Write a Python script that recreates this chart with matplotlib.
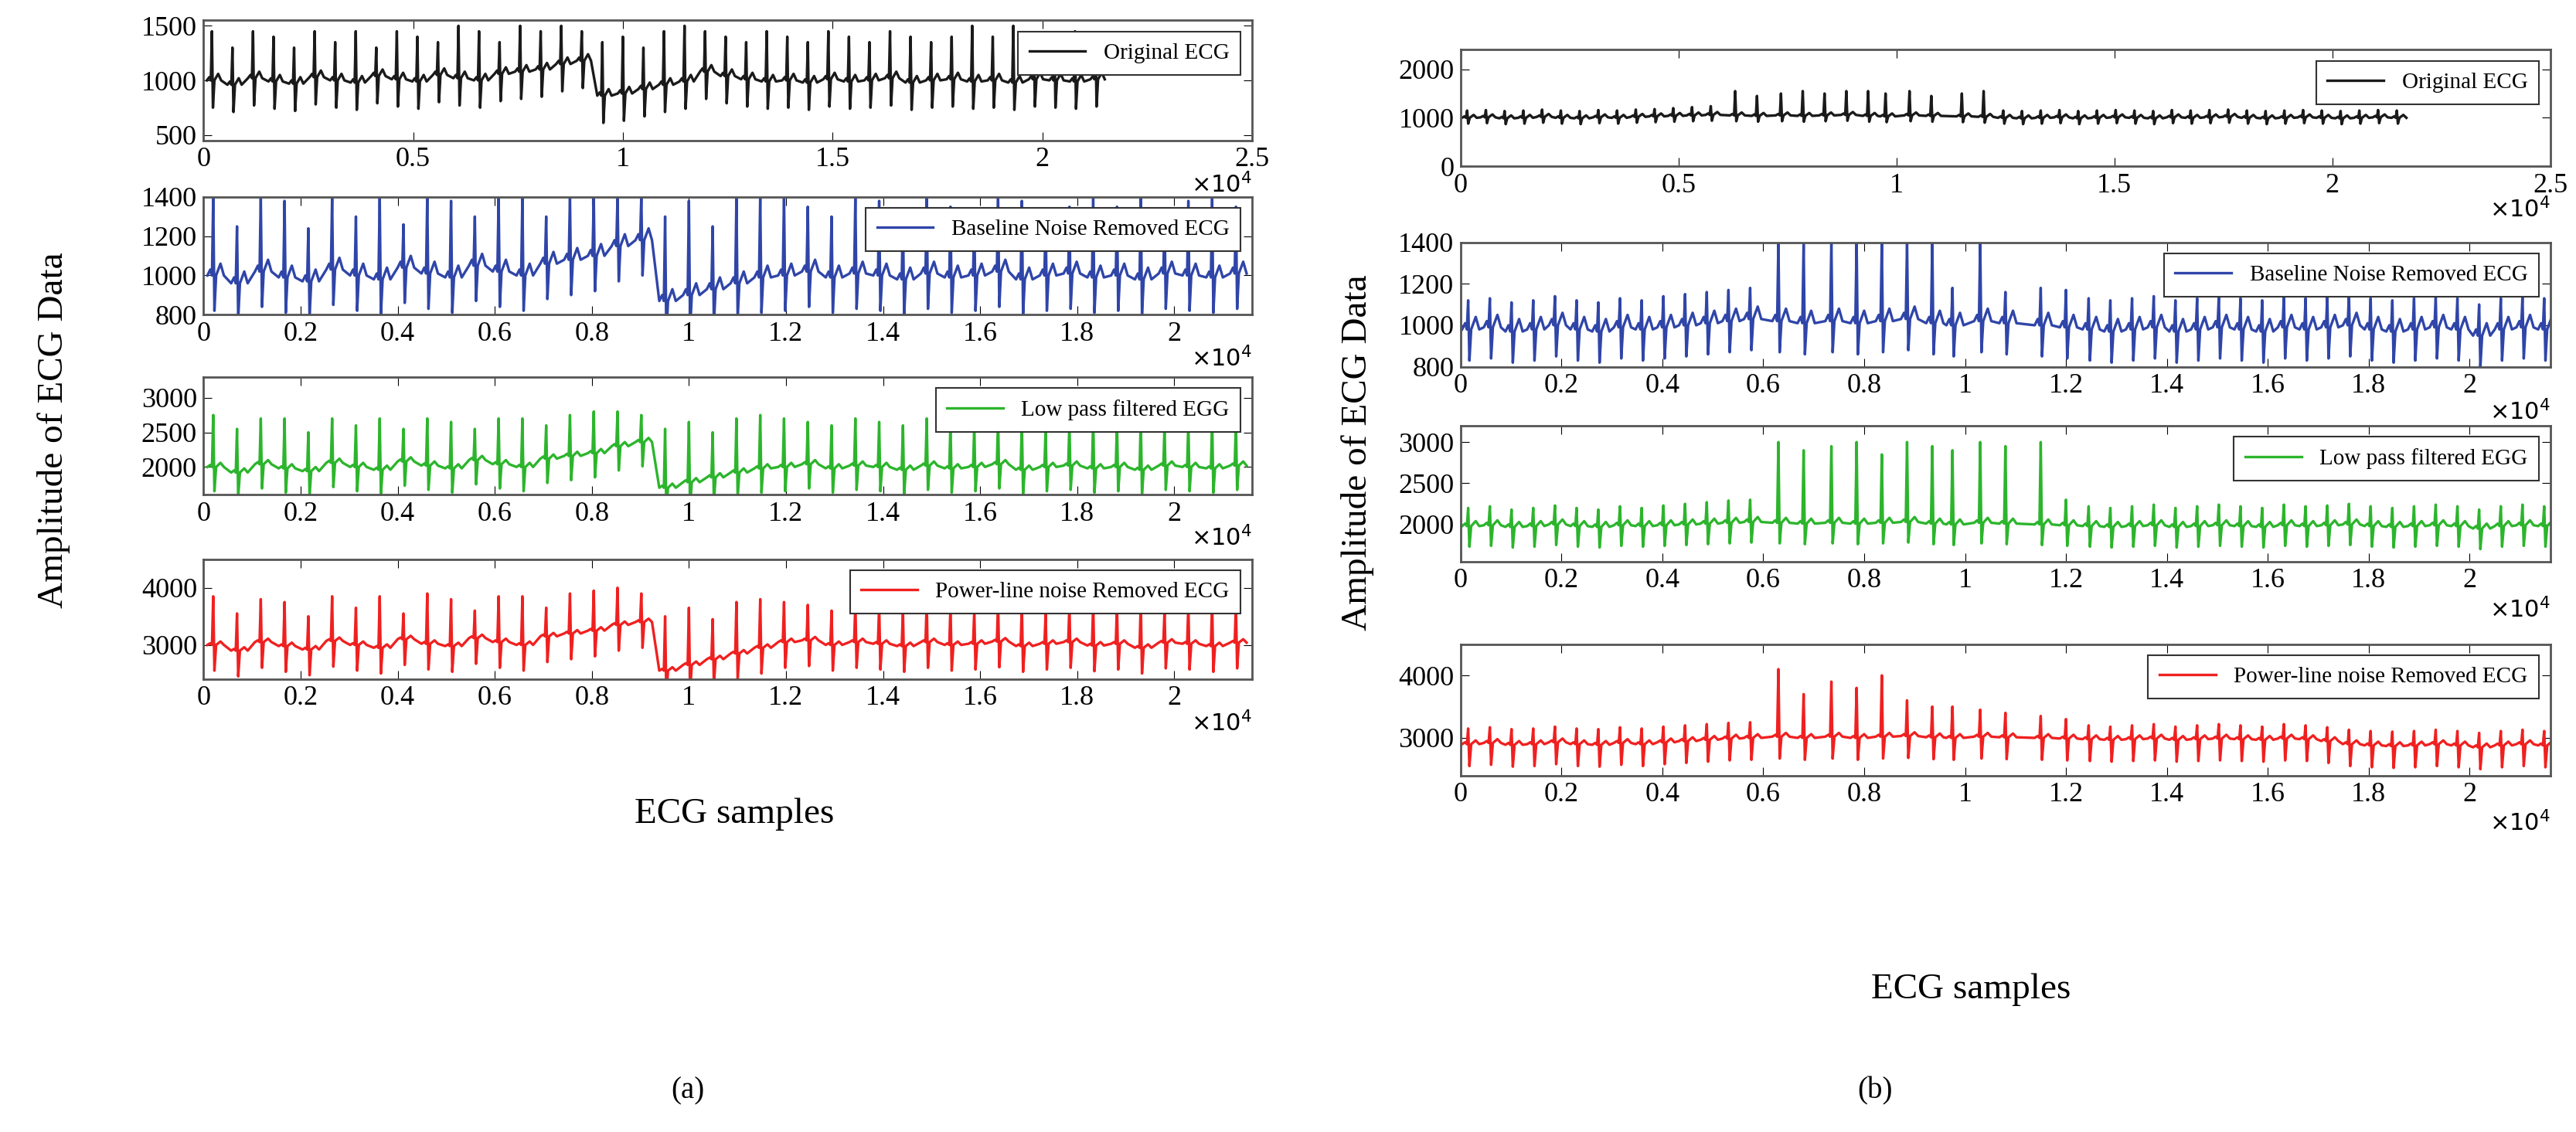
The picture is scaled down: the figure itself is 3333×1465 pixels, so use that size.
import numpy as np
import matplotlib
matplotlib.use("Agg")
import matplotlib.pyplot as plt

plt.rcParams["font.family"] = "Liberation Serif"

# ---- data ----
# beat locations (samples)
left_beats = [200, 690, 1180, 1670, 2160, 2650, 3140, 3630, 4120, 4610, 5100, 5590,
              6080, 6570, 7060, 7550, 8040, 8530, 9020, 9510, 10000, 10490, 10980,
              11470, 11960, 12450, 12940, 13430, 13920, 14410, 14900, 15390, 15880,
              16370, 16860, 17350, 17840, 18330, 18820, 19310, 19800, 20290, 20780, 21270]

# (a) original ECG
a1_base = [1000, 960, 1020, 990, 970, 1030, 1000, 980, 1040, 1010, 990, 1050, 1020, 1000, 1060,
           1080, 1100, 1150, 1180, 860, 880, 920, 960, 990, 1080, 1040, 1010, 990, 1000, 980,
           1010, 990, 1000, 1020, 980, 1000, 1010, 990, 1000, 980, 1010, 1000, 990, 1010]
a1_peak = [1450, 1300, 1450, 1400, 1300, 1450, 1350, 1450, 1300, 1450, 1400, 1350, 1500, 1450, 1350,
           1500, 1450, 1500, 1450, 1350, 1400, 1300, 1450, 1500, 1450, 1400, 1350, 1450, 1400, 1350,
           1450, 1400, 1350, 1450, 1400, 1350, 1400, 1500, 1400, 1500, 1350, 1400, 1450, 1400]
# (a) baseline noise removed
a2_base = [1000, 960, 1020, 990, 970, 1030, 1000, 980, 1040, 1010, 990, 1050, 1020, 1000, 1060,
           1080, 1100, 1150, 1180, 870, 900, 930, 960, 990, 1000, 1020, 990, 1010, 1000, 980,
           1010, 990, 1000, 1020, 980, 1000, 1010, 990, 1000, 980, 1010, 1000, 990, 1010]
a2_peak = [1400, 1250, 1400, 1380, 1240, 1400, 1300, 1400, 1260, 1400, 1380, 1300, 1400, 1400, 1300,
           1400, 1400, 1400, 1400, 1300, 1380, 1250, 1400, 1400, 1400, 1350, 1300, 1400, 1380, 1300,
           1400, 1350, 1300, 1400, 1380, 1300, 1350, 1400, 1350, 1400, 1300, 1380, 1400, 1350]
# (a) low pass filtered
a3_base = [2000, 1920, 2040, 1980, 1940, 2060, 2000, 1960, 2080, 2020, 1980, 2100, 2040, 2000, 2120,
           2160, 2200, 2300, 2360, 1700, 1780, 1850, 1920, 1980, 2000, 2040, 1980, 2020, 2000, 1960,
           2020, 1980, 2000, 2040, 1960, 2000, 2020, 1980, 2000, 1960, 2020, 2000, 1980, 2020]
a3_peak = [2750, 2550, 2700, 2700, 2500, 2700, 2600, 2700, 2550, 2700, 2650, 2550, 2700, 2700, 2600,
           2750, 2800, 2800, 2750, 2550, 2650, 2500, 2700, 2750, 2700, 2650, 2600, 2700, 2650, 2600,
           2700, 2650, 2600, 2700, 2650, 2550, 2650, 2700, 2650, 2700, 2600, 2650, 2700, 2650]
# (a) power-line noise removed
a4_base = [3000, 2900, 3050, 2980, 2920, 3070, 3000, 2950, 3100, 3020, 2980, 3120, 3050, 3000, 3150,
           3200, 3250, 3350, 3400, 2550, 2650, 2750, 2850, 2950, 3050, 3080, 3000, 3050, 3020, 2980,
           3050, 3000, 3020, 3060, 2980, 3020, 3050, 2990, 3020, 2950, 3040, 3020, 2980, 3040]
a4_peak = [3850, 3550, 3800, 3750, 3500, 3850, 3650, 3850, 3550, 3900, 3800, 3600, 3850, 3850, 3650,
           3900, 3950, 4000, 3900, 3500, 3650, 3450, 3750, 3800, 3750, 3700, 3600, 3750, 3700, 3600,
           3750, 3700, 3600, 3750, 3700, 3550, 3700, 3750, 3700, 3750, 3600, 3700, 3750, 3700]

right_beats = [150, 580, 1010, 1440, 1870, 2300, 2730, 3160, 3590, 4020, 4450, 4880, 5310, 5740,
               6300, 6800, 7350, 7850, 8350, 8850, 9350, 9750, 10300, 10800, 11500, 12000,
               12450, 12880, 13310, 13740, 14170, 14600, 15030, 15460, 15890, 16320, 16750,
               17180, 17610, 18040, 18470, 18900, 19330, 19760, 20190, 20620, 21050, 21480]

b1_base = [1000, 1010, 990, 1000, 1020, 1000, 990, 1010, 1000, 1020, 1030, 1040, 1050, 1060,
           1050, 1040, 1050, 1040, 1050, 1060, 1040, 1030, 1050, 1040, 1030, 1020,
           1000, 990, 1000, 1010, 990, 1000, 1010, 1000, 990, 1010, 1000,
           1010, 1020, 1000, 990, 1000, 1010, 1000, 990, 1000, 1010, 1000]
b1_peak = [1150, 1160, 1140, 1150, 1170, 1150, 1140, 1160, 1150, 1170, 1180, 1200, 1220, 1240,
           1550, 1450, 1500, 1550, 1500, 1550, 1550, 1500, 1550, 1450, 1500, 1550,
           1150, 1140, 1150, 1160, 1140, 1150, 1160, 1150, 1140, 1160, 1150,
           1160, 1170, 1150, 1140, 1150, 1160, 1150, 1140, 1150, 1160, 1150]
b2_base = [980, 990, 970, 980, 1000, 980, 970, 990, 980, 990, 1000, 1010, 1020, 1030,
           1020, 1010, 1020, 1010, 1020, 1030, 1010, 1000, 1020, 1010, 1000, 990,
           980, 970, 980, 990, 970, 980, 990, 980, 970, 990, 980,
           990, 1000, 980, 970, 980, 990, 980, 950, 980, 990, 980]
b2_peak = [1120, 1130, 1110, 1120, 1140, 1120, 1110, 1130, 1120, 1140, 1150, 1160, 1170, 1180,
           1400, 1400, 1400, 1400, 1400, 1400, 1400, 1180, 1400, 1160, 1180, 1170,
           1130, 1120, 1130, 1140, 1120, 1130, 1140, 1130, 1120, 1140, 1130,
           1140, 1150, 1130, 1120, 1130, 1140, 1130, 1100, 1130, 1140, 1130]
b3_base = [1980, 1990, 1970, 1980, 2000, 1980, 1970, 1990, 1980, 1990, 2000, 2010, 2020, 2030,
           2020, 2010, 2020, 2010, 2020, 2030, 2010, 2000, 2020, 2010, 2000, 1990,
           1980, 1970, 1980, 1990, 1970, 1980, 1990, 1980, 1970, 1990, 1980,
           1990, 2000, 1980, 1970, 1980, 1990, 1980, 1950, 1980, 1990, 1980]
b3_peak = [2200, 2220, 2180, 2200, 2230, 2200, 2180, 2220, 2200, 2230, 2250, 2270, 2290, 2300,
           3000, 2900, 2950, 3000, 2850, 3000, 2950, 2900, 3000, 2950, 3000, 2300,
           2220, 2200, 2220, 2240, 2200, 2220, 2240, 2220, 2200, 2240, 2220,
           2230, 2250, 2220, 2200, 2220, 2240, 2220, 2180, 2220, 2240, 2220]
b4_base = [2900, 2920, 2890, 2900, 2930, 2900, 2890, 2920, 2900, 2930, 2950, 2970, 2990, 3000,
           3020, 3000, 3020, 3000, 3020, 3030, 3010, 3000, 3020, 3010, 3000, 2990,
           2980, 2970, 2980, 2990, 2970, 2980, 2990, 2980, 2970, 2990, 2980,
           2950, 2900, 2880, 2870, 2880, 2900, 2880, 2850, 2880, 2900, 2880]
b4_peak = [3150, 3170, 3140, 3150, 3180, 3150, 3140, 3170, 3150, 3180, 3200, 3220, 3240, 3250,
           4100, 3700, 3900, 3800, 4000, 3600, 3500, 3500, 3450, 3400, 3350, 3300,
           3200, 3180, 3200, 3220, 3180, 3200, 3220, 3200, 3180, 3220, 3200,
           3170, 3130, 3110, 3100, 3110, 3130, 3110, 3080, 3110, 3130, 3110]

# trough depth below baseline, per panel
a_drop = [250, 180, 350, 450]
b_drop = [120, 150, 250, 350]

labels = ["Original ECG", "Baseline Noise Removed ECG", "Low pass filtered EGG",
          "Power-line noise Removed ECG"]
colors = ["#1a1a1a", "#2f45a8", "#2cb52c", "#f02020"]

a_ylim = [(450, 1550), (800, 1400), (1600, 3300), (2400, 4500)]
a_yticks = [[500, 1000, 1500], [800, 1000, 1200, 1400], [2000, 2500, 3000], [3000, 4000]]
b_ylim = [(0, 2400), (800, 1400), (1550, 3200), (2400, 4500)]
b_yticks = [[0, 1000, 2000], [800, 1000, 1200, 1400], [2000, 2500, 3000], [3000, 4000]]


def trace(beats, base, peak, drop):
    xs, ys = [], []
    for x, b, p in zip(beats, base, peak):
        xs += [x - 120, x - 60, x - 25, x, x + 25, x + 60, x + 150, x + 220]
        ys += [b, b + 30, b, p, b - drop, b, b + 60, b]
    return np.array(xs), np.array(ys)


fig = plt.figure(figsize=(33.33, 14.65), dpi=100)

a_rows = [(0.876, 0.106), (0.722, 0.104), (0.563, 0.104), (0.400, 0.106)]
b_rows = [(0.853, 0.103), (0.676, 0.110), (0.504, 0.120), (0.315, 0.116)]

sides = [
    (0.079, 0.407, left_beats, [a1_base, a2_base, a3_base, a4_base],
     [a1_peak, a2_peak, a3_peak, a4_peak], a_drop, a_ylim, a_yticks, a_rows),
    (0.567, 0.423, right_beats, [b1_base, b2_base, b3_base, b4_base],
     [b1_peak, b2_peak, b3_peak, b4_peak], b_drop, b_ylim, b_yticks, b_rows),
]

for left, width, beats, bases, peaks, drops, ylims, yticks, rows in sides:
    for k in range(4):
        y0, h = rows[k]
        ax = fig.add_axes([left, y0, width, h])
        xs, ys = trace(beats, bases[k], peaks[k], drops[k])
        ax.plot(xs, ys, color=colors[k], lw=2.4, label=labels[k])
        if k == 0:
            ax.set_xlim(0, 25000)
            ax.set_xticks([0, 5000, 10000, 15000, 20000, 25000])
            ax.set_xticklabels(["0", "0.5", "1", "1.5", "2", "2.5"])
        else:
            ax.set_xlim(0, 21600)
            ax.set_xticks(np.arange(0, 21000, 2000))
            ax.set_xticklabels(["0", "0.2", "0.4", "0.6", "0.8", "1", "1.2", "1.4",
                                "1.6", "1.8", "2"])
        ax.set_ylim(*ylims[k])
        ax.set_yticks(yticks[k])
        ax.tick_params(labelsize=26, direction="in", length=8, top=True, right=True, pad=6)
        for s in ax.spines.values():
            s.set_color("#555555")
            s.set_linewidth(2)
        leg = ax.legend(loc="upper right", fontsize=21, frameon=True, fancybox=False,
                        handlelength=2.5, borderpad=0.5, framealpha=1)
        leg.get_frame().set_edgecolor("#333333")
        leg.get_frame().set_linewidth(1.5)
        ax.text(1.0, -0.27, r"$\times10^4$", transform=ax.transAxes, ha="right",
                va="top", fontsize=22)

fig.text(0.021, 0.62, "Amplitude of ECG Data", rotation=90, ha="center", va="center",
         fontsize=34)
fig.text(0.527, 0.6, "Amplitude of ECG Data", rotation=90, ha="center", va="center",
         fontsize=34)
fig.text(0.285, 0.295, "ECG samples", ha="center", va="top", fontsize=34)
fig.text(0.765, 0.14, "ECG samples", ha="center", va="top", fontsize=34)
fig.text(0.267, 0.03, "(a)", ha="center", fontsize=28)
fig.text(0.728, 0.03, "(b)", ha="center", fontsize=28)

fig.savefig("out.png", dpi=100)
